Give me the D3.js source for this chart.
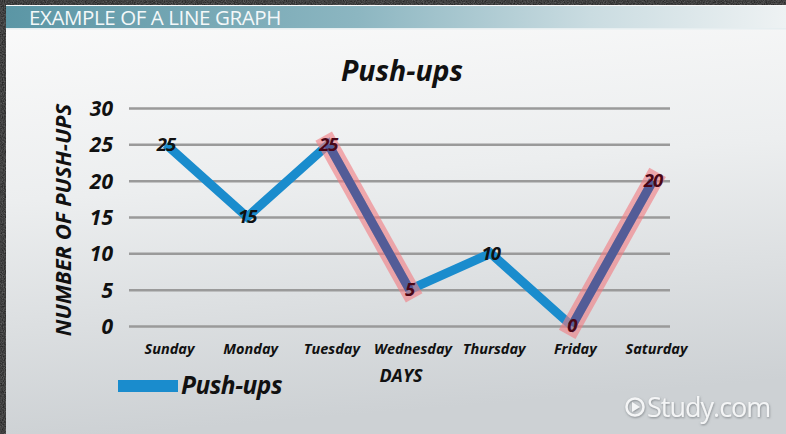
<!DOCTYPE html>
<html>
<head>
<meta charset="utf-8">
<script src="https://cdn.jsdelivr.net/npm/d3@7"></script>
<style>
  html, body { margin: 0; padding: 0; background: #1c1c1c; }
  svg { display: block; }
</style>
</head>
<body>
<script>
// Push-ups done on each day of the week
const days = ["Sunday", "Monday", "Tuesday", "Wednesday", "Thursday", "Friday", "Saturday"];
const pushups = [25, 15, 25, 5, 10, 0, 20];
const yTicks = [0, 5, 10, 15, 20, 25, 30];
// segments picked out with a highlight band (start day, end day)
const highlights = [["Tuesday", "Wednesday"], ["Friday", "Saturday"]];

const W = 786, H = 434;
const font = "'Open Sans', 'DejaVu Sans', sans-serif";

const svg = d3.select("body").append("svg")
  .attr("width", W).attr("height", H);

const defs = svg.append("defs");

// grainy dark frame
const grain = defs.append("filter").attr("id", "grain");
grain.append("feTurbulence").attr("type", "fractalNoise").attr("baseFrequency", 0.9).attr("numOctaves", 2).attr("result", "n");
grain.append("feColorMatrix").attr("type", "matrix")
  .attr("values", "0 0 0 0 0.18  0 0 0 0 0.18  0 0 0 0 0.18  0 0 0 0.9 0");
svg.append("rect").attr("width", W).attr("height", H).attr("fill", "#151515");
svg.append("rect").attr("width", W).attr("height", H).attr("filter", "url(#grain)");

// slide background
const bg = defs.append("linearGradient").attr("id", "bg").attr("x1", 0).attr("y1", 0).attr("x2", 0.15).attr("y2", 1);
bg.append("stop").attr("offset", 0).attr("stop-color", "#fbfbfb");
bg.append("stop").attr("offset", 0.45).attr("stop-color", "#eceeef");
bg.append("stop").attr("offset", 1).attr("stop-color", "#cdd1d4");
svg.append("rect").attr("x", 6).attr("y", 5).attr("width", W - 6).attr("height", H - 5).attr("fill", "url(#bg)");

// header bar
const bar = defs.append("linearGradient").attr("id", "bar").attr("x1", 0).attr("x2", 1).attr("y1", 0).attr("y2", 0);
bar.append("stop").attr("offset", 0).attr("stop-color", "#5b96a5");
bar.append("stop").attr("offset", 0.45).attr("stop-color", "#8cb6c1");
bar.append("stop").attr("offset", 0.75).attr("stop-color", "#cadce1");
bar.append("stop").attr("offset", 1).attr("stop-color", "#eef2f3");
svg.append("rect").attr("x", 6).attr("y", 6).attr("width", W - 6).attr("height", 22).attr("fill", "url(#bar)");
svg.append("rect").attr("x", 6).attr("y", 28).attr("width", W - 6).attr("height", 1.5).attr("fill", "#e6eef0");
svg.append("text").attr("x", 29).attr("y", 24.5)
  .attr("font-family", font).attr("font-size", 20.5).attr("fill", "#f4f8f9")
  .attr("letter-spacing", -0.4)
  .text("EXAMPLE OF A LINE GRAPH");

// scales
const x = d3.scalePoint().domain(days).range([166, 653]);
const y = d3.scaleLinear().domain([0, 30]).range([326, 108]);

// gridlines with value labels
const yAxis = d3.axisLeft(y).tickValues(yTicks).tickSize(-541).tickPadding(16);
const gy = svg.append("g").attr("transform", "translate(129,0)").call(yAxis);
gy.select(".domain").remove();
gy.selectAll(".tick line").attr("stroke", "#9a9a9a").attr("stroke-width", 2.5);
gy.selectAll(".tick text")
  .attr("font-family", font).attr("font-size", 21).attr("font-weight", "bold")
  .attr("font-style", "italic").attr("fill", "#111").attr("dy", "0.35em");

// day labels
const xAxis = d3.axisBottom(x).tickSize(0).tickPadding(0);
const gx = svg.append("g").attr("transform", "translate(3,349)").call(xAxis);
gx.select(".domain").remove();
gx.selectAll(".tick text")
  .attr("font-family", font).attr("font-size", 14.5).attr("font-weight", "bold")
  .attr("font-style", "italic").attr("fill", "#111").attr("dy", "0.35em");

// axis titles
svg.append("text")
  .attr("transform", "translate(71,220) rotate(-90)")
  .attr("text-anchor", "middle")
  .attr("font-family", font).attr("font-size", 22).attr("font-weight", "bold")
  .attr("font-style", "italic").attr("fill", "#111")
  .text("NUMBER OF PUSH-UPS");
svg.append("text").attr("x", 401).attr("y", 382).attr("text-anchor", "middle")
  .attr("font-family", font).attr("font-size", 18).attr("font-weight", "bold")
  .attr("font-style", "italic").attr("fill", "#111").text("DAYS");

// chart title
svg.append("text").attr("x", 402).attr("y", 81).attr("text-anchor", "middle")
  .attr("font-family", font).attr("font-size", 28.5).attr("font-weight", "bold")
  .attr("font-style", "italic").attr("fill", "#111").text("Push-ups");

// the line
const pts = days.map((d, i) => ({ day: d, v: pushups[i] }));
const line = d3.line().x(d => x(d.day)).y(d => y(d.v));
svg.append("path").datum(pts).attr("d", line)
  .attr("fill", "none").attr("stroke", "#1a8ccd").attr("stroke-width", 9)
  .attr("stroke-linejoin", "miter");

// highlight bands over chosen segments
const hl = svg.append("g");
highlights.forEach(([a, b]) => {
  const seg = [pts.find(p => p.day === a), pts.find(p => p.day === b)];
  hl.append("path").datum(seg).attr("d", line)
    .attr("stroke", "#f07c82").attr("stroke-opacity", 0.62)
    .attr("stroke-width", 19).attr("stroke-linecap", "square").attr("fill", "none");
  hl.append("path").datum(seg).attr("d", line)
    .attr("stroke", "#3a4f94").attr("stroke-opacity", 0.75)
    .attr("stroke-width", 9).attr("fill", "none");
});

// value labels; those inside a band take on a dark red tint
const hlDays = new Set(highlights.flat());
svg.append("g").selectAll("text").data(pts).join("text")
  .attr("x", d => x(d.day)).attr("y", d => y(d.v)).attr("dy", "0.34em")
  .attr("text-anchor", "middle")
  .attr("font-family", font).attr("font-size", 18.5).attr("font-weight", "bold")
  .attr("font-style", "italic").attr("letter-spacing", -1)
  .attr("fill", d => hlDays.has(d.day) ? "#4a0616" : "#111").text(d => d.v);

// legend
svg.append("rect").attr("x", 118).attr("y", 380).attr("width", 60).attr("height", 12).attr("fill", "#1a8ccd");
svg.append("text").attr("x", 181).attr("y", 394)
  .attr("font-family", font).attr("font-size", 24.5).attr("font-weight", "bold")
  .attr("font-style", "italic").attr("fill", "#111").attr("letter-spacing", -0.5)
  .text("Push-ups");

// watermark
const shadow = defs.append("filter").attr("id", "sh").attr("x", -0.2).attr("y", -0.3).attr("width", 1.4).attr("height", 1.6);
shadow.append("feDropShadow").attr("dx", 0.5).attr("dy", 1).attr("stdDeviation", 1.2)
  .attr("flood-color", "#7a7f84").attr("flood-opacity", 0.9);
const wm = svg.append("g").attr("filter", "url(#sh)");
wm.append("circle").attr("cx", 635).attr("cy", 407).attr("r", 8.5)
  .attr("fill", "none").attr("stroke", "#f4f5f6").attr("stroke-width", 2.5);
wm.append("path").attr("d", "M632,402 L640,407 L632,412 Z").attr("fill", "#f4f5f6");
wm.append("text").attr("x", 647).attr("y", 417)
  .attr("font-family", font).attr("font-size", 27).attr("fill", "#f4f5f6")
  .attr("letter-spacing", -1).text("Study.com");
</script>
</body>
</html>
